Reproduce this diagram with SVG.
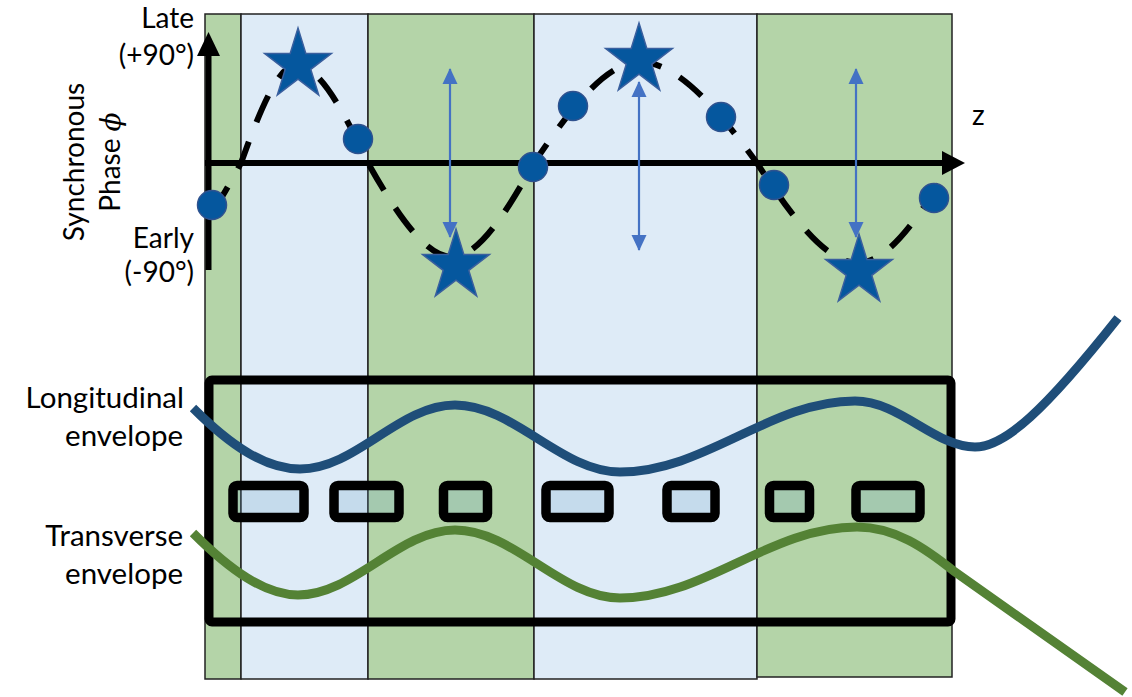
<svg xmlns="http://www.w3.org/2000/svg" width="1132" height="697" viewBox="0 0 1132 697">
<defs>
<style>
.colG{fill:#B4D4A8;stroke:#222;stroke-width:1.5}
.colB{fill:#DEEBF7;stroke:#222;stroke-width:1.5}
.axis{stroke:#000;stroke-width:6;fill:none}
.phase{fill:none;stroke:#000;stroke-width:6;stroke-dasharray:29 21}
.star{fill:#05579E;stroke:#3A5F9E;stroke-width:1.5}
.dot{fill:#05579E;stroke:#2F528F;stroke-width:1.5}
.darr{stroke:#4472C4;stroke-width:2.2;fill:none;marker-start:url(#ah);marker-end:url(#ah)}
.mag{fill:rgba(110,165,200,0.22);stroke:#000;stroke-width:9.5}
.lab{font-family:Lato,"Liberation Sans",sans-serif;font-size:28px;fill:#000}
.big{font-size:29.5px}
.env{fill:none;stroke-width:9}
</style>
<marker id="ah" viewBox="0 0 16 16" markerWidth="16" markerHeight="16" refX="15" refY="8" orient="auto-start-reverse" markerUnits="userSpaceOnUse">
<path d="M0,0.5 L16,8 L0,15.5 z" fill="#4472C4"/>
</marker>
<path id="starShape" d="M0,-37 L7.9,-11.4 L33.4,-11.4 L12.8,4.4 L20.7,29.9 L0,14.1 L-20.7,29.9 L-12.8,4.4 L-33.4,-11.4 L-7.9,-11.4 Z"/>
</defs>

<g id="background">
<rect class="colG" x="205" y="14" width="36" height="665"/>
<rect class="colB" x="241" y="14" width="127" height="665"/>
<rect class="colG" x="368" y="14" width="166" height="665"/>
<rect class="colB" x="534" y="14" width="223" height="665"/>
<rect class="colG" x="757" y="14" width="195" height="663"/>
</g>

<g id="axes">
<line class="axis" x1="208.5" y1="270" x2="208.5" y2="54"/>
<polygon points="208.5,32 197,56 220,56" fill="#000"/>
<line class="axis" x1="205" y1="163" x2="944" y2="163"/>
<polygon points="965,163 942,151 942,175" fill="#000"/>
</g>

<g id="phase-curve">
<path class="phase" d="M213,212 C222,197 232,180 241,163 C259,113 278,65 296,65 C319.5,65 344.5,113 368,163 C395,211 425,257 452,257 C479,257 507,211 534,163 C569,111 605,62 640,62 C678,62 719,111 757,163 C790,214 825,263 858,263 C889,263 921,214 952,163"/>
</g>

<g id="stars">
<use href="#starShape" class="star" transform="translate(298,65)"/>
<use href="#starShape" class="star" transform="translate(456,266)"/>
<use href="#starShape" class="star" transform="translate(639,60)"/>
<use href="#starShape" class="star" transform="translate(859,271)"/>
</g>

<g id="particles">
<circle class="dot" cx="212" cy="205" r="14.5"/>
<circle class="dot" cx="358" cy="139" r="14.5"/>
<circle class="dot" cx="533" cy="167" r="14.5"/>
<circle class="dot" cx="573" cy="106" r="14.5"/>
<circle class="dot" cx="721" cy="117" r="14.5"/>
<circle class="dot" cx="774" cy="185" r="14.5"/>
<circle class="dot" cx="934" cy="198" r="14.5"/>
</g>

<g id="connectors">
<line class="darr" x1="450" y1="69" x2="450" y2="237"/>
<line class="darr" x1="639" y1="82" x2="639" y2="250"/>
<line class="darr" x1="856" y1="69" x2="856" y2="237"/>
</g>

<g id="lattice">
<rect x="209" y="380" width="742" height="242" rx="3" fill="none" stroke="#000" stroke-width="9"/>
<rect class="mag" x="233" y="485.5" width="71" height="32" rx="4"/>
<rect class="mag" x="334" y="485.5" width="65" height="32" rx="4"/>
<rect class="mag" x="443.5" y="485.5" width="44" height="32" rx="4"/>
<rect class="mag" x="546" y="485.5" width="63" height="32" rx="4"/>
<rect class="mag" x="667" y="485.5" width="48" height="32" rx="4"/>
<rect class="mag" x="769.5" y="485.5" width="40" height="32" rx="4"/>
<rect class="mag" x="856" y="485.5" width="64" height="32" rx="4"/>
</g>

<g id="longitudinal-envelope">
<path class="env" stroke="#1F4E79" d="M193,408 C230,445 265,469 300,469 C356,469 399,405 455,405 C514,405 561,472 620,472 C705,472 770,401 855,401 C900,401 935,447 975,447 C1005,447 1045,410 1118,318"/>
</g>

<g id="transverse-envelope">
<path class="env" stroke="#548235" d="M193,533 C230,570 265,595 298,595 C354,595 399,530 455,530 C514,530 561,598 620,598 C705,598 770,527 857,527 C895,527 925,548 955,572 L1125,692"/>
</g>

<g id="labels">
<text class="lab" x="194" y="28" text-anchor="end">Late</text>
<text class="lab" x="194" y="65" text-anchor="end">(+90°)</text>
<text class="lab" x="194" y="248" text-anchor="end">Early</text>
<text class="lab" x="194" y="282" text-anchor="end">(-90°)</text>
<text class="lab" transform="translate(84,162) rotate(-90)" text-anchor="middle">Synchronous</text>
<text class="lab" transform="translate(120,162) rotate(-90)" text-anchor="middle">Phase <tspan font-family="'DejaVu Serif',serif" font-style="italic">ϕ</tspan></text>
<text class="lab" x="972" y="125">z</text>
<text class="lab big" x="184" y="408" text-anchor="end">Longitudinal</text>
<text class="lab big" x="183" y="446" text-anchor="end">envelope</text>
<text class="lab big" x="183" y="546" text-anchor="end">Transverse</text>
<text class="lab big" x="183" y="584" text-anchor="end">envelope</text>
</g>
</svg>
